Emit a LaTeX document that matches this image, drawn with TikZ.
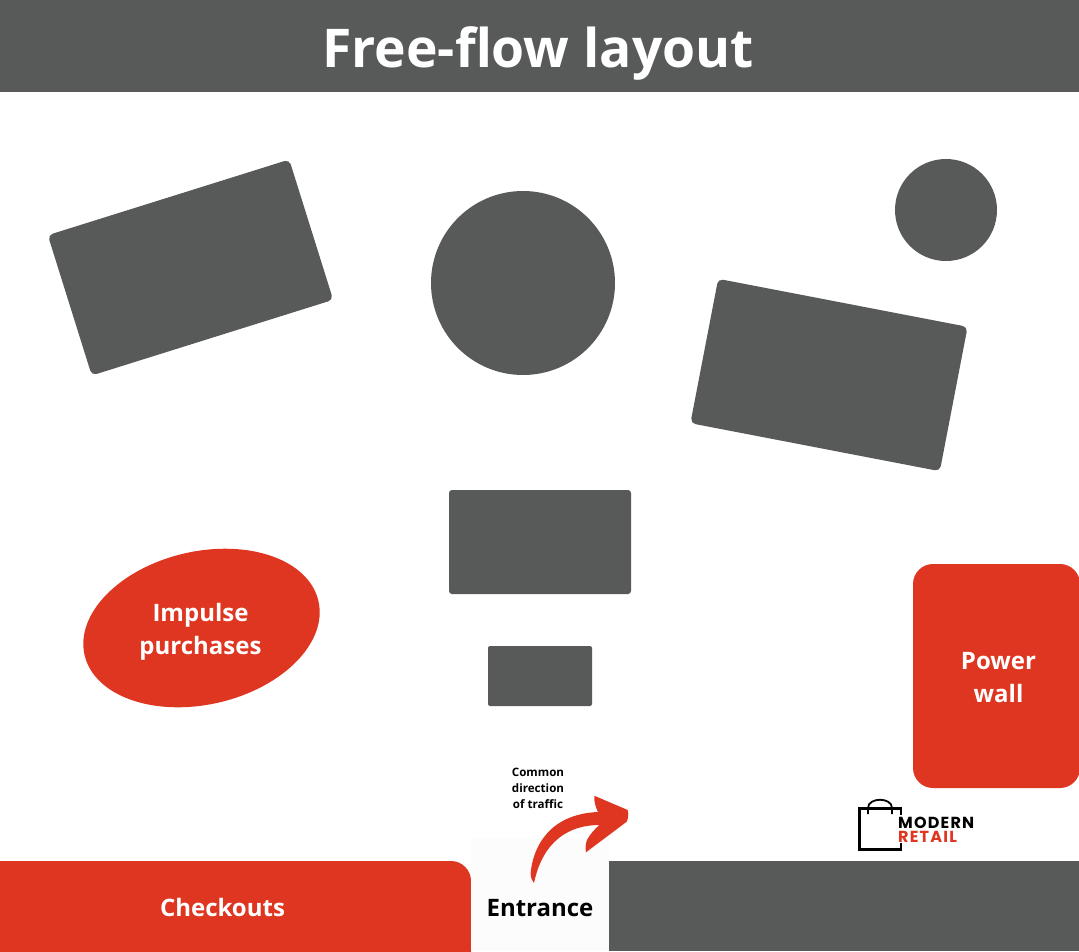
\documentclass[tikz,border=0pt]{standalone}
\usepackage{fontspec}
\setmainfont{Open Sans}
\newfontfamily\logofont[LetterSpace=7.5]{Poppins}
\definecolor{StoreGrey}{HTML}{585A59}
\definecolor{StoreRed}{HTML}{DF3621}
\usetikzlibrary{shapes.geometric}

\begin{document}
\begin{tikzpicture}[x=1pt, y=-1pt,
  fixture/.style={fill=StoreGrey, rounded corners=5pt, inner sep=0pt},
  hotzone/.style={fill=StoreRed, rounded corners=20pt},
  whitelabel/.style={text=white, font=\fontsize{24}{33}\selectfont\bfseries, align=center},
  blacklabel/.style={text=black, font=\fontsize{24}{33}\selectfont\bfseries, align=center}]
  \useasboundingbox (0,0) rectangle (1079,951);
  % header
  \fill[StoreGrey] (0,0) rectangle (1079,92);
  \node[text=white, font=\fontsize{53.4}{60}\selectfont\bfseries] (title) at (538,53) {Free-flow layout};
  % floor fixtures
  \node[fixture, minimum width=253pt, minimum height=147pt, rotate=17.4] (tableA) at (190.5,267.5) {};
  \node[fixture, minimum width=254pt, minimum height=147pt, rotate=-10.9] (tableB) at (829,375) {};
  \node[fixture, minimum width=182pt, minimum height=104pt, rounded corners=3pt] (tableC) at (540,542) {};
  \node[fixture, minimum width=104pt, minimum height=60pt, rounded corners=2pt] (tableD) at (540,676) {};
  \node[circle, fill=StoreGrey, minimum size=184pt, inner sep=0pt] (roundA) at (523,283) {};
  \node[circle, fill=StoreGrey, minimum size=102pt, inner sep=0pt] (roundB) at (946,210) {};
  % red zones
  \node[ellipse, fill=StoreRed, minimum width=240pt, minimum height=153pt, inner sep=0pt, rotate=13] (impulse) at (201.5,628) {};
  \node[whitelabel] (impulsetxt) at (200.5,632) {Impulse\\purchases};
  \begin{scope}
    \clip (0,0) rectangle (1079,951);
    \fill[hotzone] (913,564) rectangle (1080,788);
    \fill[hotzone] (-40,861) rectangle (471,991);
  \end{scope}
  \node[whitelabel] (powertxt) at (998.5,678) {Power\\wall};
  \node[whitelabel] (checkouts) at (222.5,907.5) {Checkouts};
  % bottom wall and entrance
  \fill[white!99!black] (471,838) rectangle (609,951);
  \fill[StoreGrey] (609,861) rectangle (1079,951);
  \node[blacklabel] (entrance) at (540,908) {Entrance};
  % traffic arrow
  \node[text=black, font=\fontsize{11.6}{16}\selectfont\bfseries, align=center] (traffic) at (538,788) {Common\\direction\\of traffic};
  \fill[StoreRed] (534,883) .. controls (530,878) and (530.5,874) .. (531,870)
    .. controls (534,846) and (550,814) .. (598,812)
    .. controls (595,806) and (594,801) .. (594.3,795.7) -- (627.7,810)
    .. controls (629,815) and (628,819) .. (626.7,821.7) -- (586,852.3)
    .. controls (585,847) and (586,843) .. (587,840)
    .. controls (590,834) and (595,829) .. (599.3,825)
    .. controls (570,825) and (543,840) .. (534,883) -- cycle;
  % logo
  \draw[black, line width=2.2pt] (901,815) -- (901,808.5) -- (859.5,808.5) -- (859.5,849.5) -- (901,849.5) -- (901,843);
  \draw[black, line width=1.8pt] (868,814) -- (868,808) .. controls (868,797) and (892,797) .. (892,808) -- (892,814);
  \node[inner sep=0pt, anchor=west, align=left, text=black, font=\fontsize{16}{13.5}\logofont\bfseries] (logotxt) at (898,830) {MODERN\\\textcolor{StoreRed}{RETAIL}};
\end{tikzpicture}
\end{document}
